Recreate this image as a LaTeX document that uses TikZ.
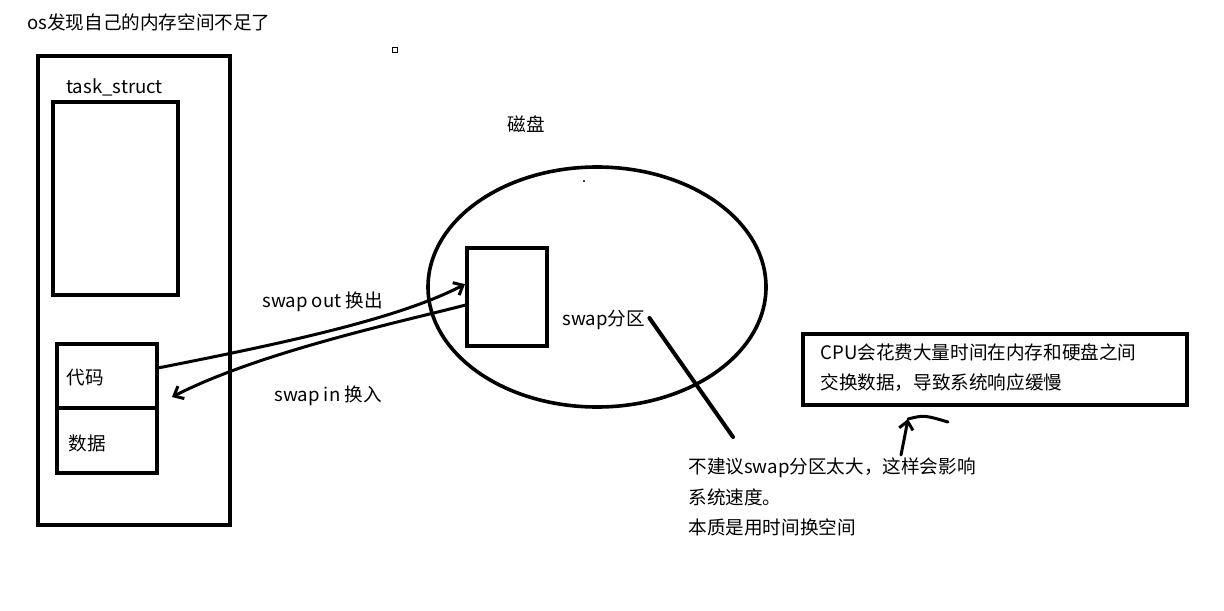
\documentclass[tikz,border=0pt]{standalone}
\usepackage{fontspec}
\setmainfont{Noto Sans CJK SC}
\usetikzlibrary{shapes.geometric,arrows.meta}

\begin{document}
\begin{tikzpicture}[x=0.5pt, y=-0.5pt,
        every node/.style={font=\fontsize{9.3}{15.4}\selectfont},
        txt/.style={anchor=west, inner sep=0pt, align=left},
        box/.style={draw, line width=2pt, inner sep=0pt},
        swapline/.style={line width=1.5pt, line cap=round, line join=round},
        hook/.style={-{Straight Barb[length=4pt,width=7pt]}}]
        \useasboundingbox (0,0) rectangle (1224,610);

        \node[txt] (title) at (27,22) {os发现自己的内存空间不足了};
        \node[draw, line width=0.6pt, minimum size=2.5pt, inner sep=0pt] (dot) at (395,50) {};

        \node[box, minimum width=96pt, minimum height=234.5pt] (mem) at (134,290.5) {};
        \node[txt] (tasklbl) at (66,87) {task\_struct};
        \node[box, minimum width=62.5pt, minimum height=96.5pt] (task) at (115.5,198.5) {};
        \node[box, minimum width=50pt, minimum height=32pt] (daima) at (107,376) {};
        \node[box, minimum width=50pt, minimum height=32.5pt] (shuju) at (107,440.5) {};
        \node[txt] at (66,378) {代码};
        \node[txt] at (68,443) {数据};

        \node[txt] (disklbl) at (507,124) {磁盘};
        \node[draw, ellipse, line width=1.8pt, inner sep=0pt,
            minimum width=169pt, minimum height=120pt] (disk) at (597,287) {};
        \fill (584,181) circle (0.6pt);
        \node[box, minimum width=40pt, minimum height=49pt] (swap) at (507,297) {};
        \node[txt] (swaplbl) at (562,320) {swap分区};

        \node[txt] (outlbl) at (262,302) {swap out 换出};
        \node[txt] (inlbl) at (274,396) {swap in 换入};
        \draw[swapline, hook] (daima.9) .. controls (290,342) and (400,318) .. (swap.163);
        \coordinate (inend) at (172,397);
        \draw[swapline, hook] (swap.191) .. controls (400,322) and (260,352) .. (inend);

        \coordinate (tail) at (733,437);
        \draw[line width=2pt, line cap=round] (swaplbl.east) ++(4,-2) -- (tail);

        \node[box, line width=2.3pt, minimum width=192pt, minimum height=35.5pt] (cpu) at (995,369.5) {};
        \node[txt] (cpulbl) at (820,367.5) {CPU会花费大量时间在内存和硬盘之间\\交换数据，导致系统响应缓慢};

        \coordinate (up) at (908,419);
        \coordinate (low) at (901,455);
        \coordinate (curl) at (948,422);
        \draw[swapline, hook] (low) .. controls (904,440) .. (up);
        \draw[swapline] (up) .. controls (924,415) .. (curl);

        \node[txt] (note) at (688,497) {不建议swap分区太大，这样会影响\\系统速度。\\本质是用时间换空间};
\end{tikzpicture}
\end{document}
